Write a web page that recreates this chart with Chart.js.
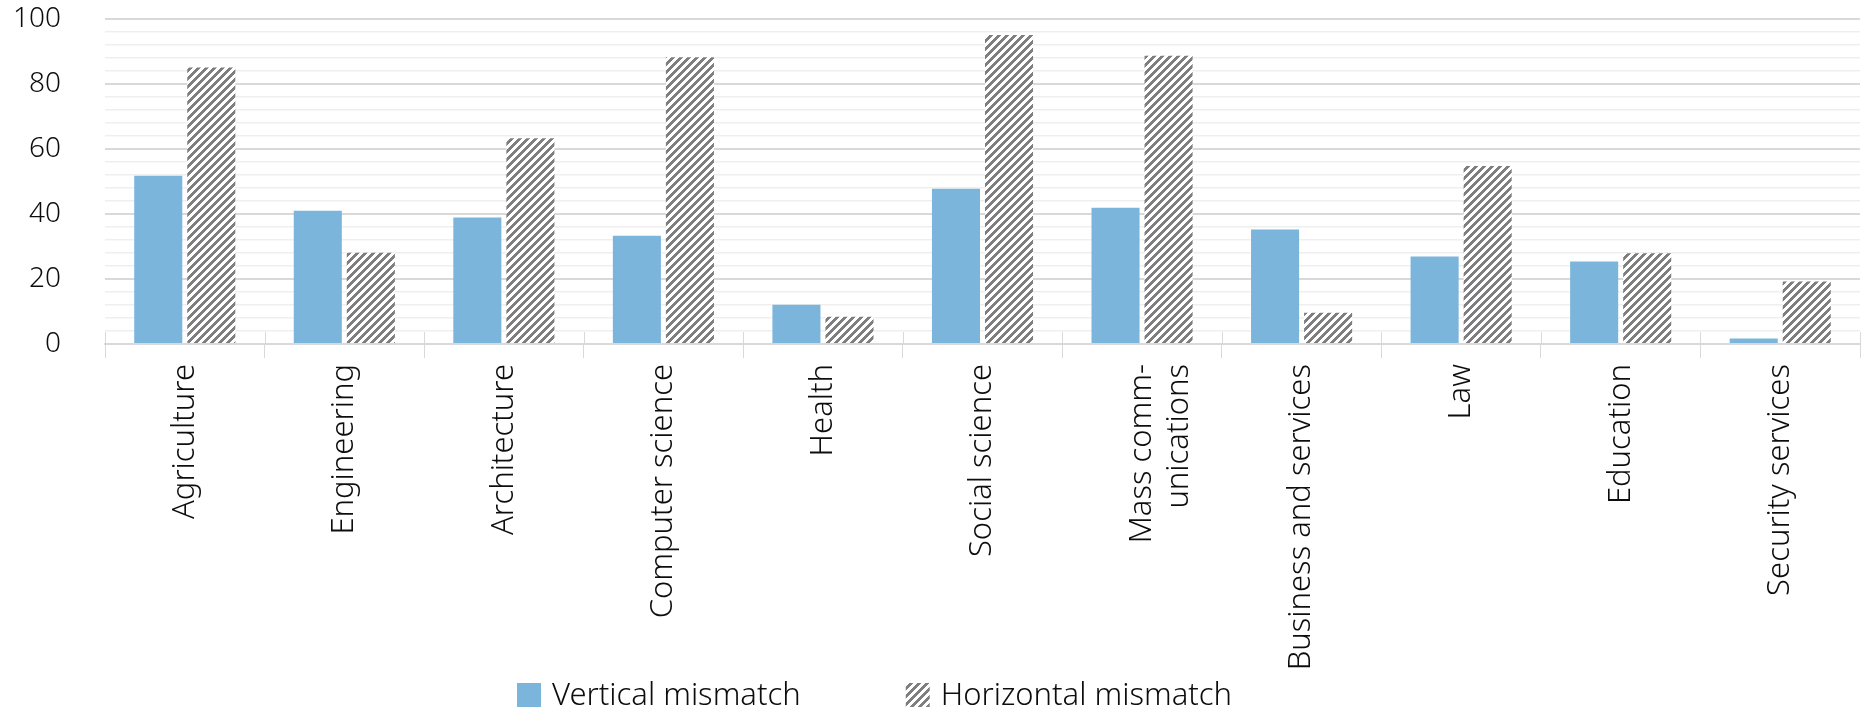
<!DOCTYPE html>
<html>
<head>
<meta charset="utf-8">
<script src="https://cdn.jsdelivr.net/npm/chart.js@4/dist/chart.umd.min.js"></script>
<style>
  html, body { margin: 0; padding: 0; background: #fff; }
  #wrap { width: 1864px; height: 712px; }
</style>
</head>
<body>
<div id="wrap"><canvas id="chart" width="1864" height="712"></canvas></div>
<script>
const categories = [
    'Agriculture', 'Engineering', 'Architecture', 'Computer science', 'Health',
    'Social science', ['Mass comm-', 'unications'], 'Business and services',
    'Law', 'Education', 'Security services'
];
const verticalMismatch = [51.8, 41.0, 38.9, 33.3, 12.1, 47.8, 41.9, 35.2, 26.9, 25.4, 1.7];
const horizontalMismatch = [85.1, 28.1, 63.3, 88.2, 8.4, 95.1, 88.7, 9.6, 54.8, 27.9, 19.2];
const seriesNames = ['Vertical mismatch', 'Horizontal mismatch'];

const FONT = '"Noto Sans", "Open Sans", sans-serif';
const TEXT = '#0d0d0d';
const BLUE = '#7cb5dc';

const canvas = document.getElementById('chart');
const ctx = canvas.getContext('2d');

// 8x8 "wide upward diagonal" fill, like the Excel pattern
function hatchPattern() {
    const tile = document.createElement('canvas');
    tile.width = 8;
    tile.height = 8;
    const g = tile.getContext('2d');
    g.fillStyle = '#ffffff';
    g.fillRect(0, 0, 8, 8);
    g.fillStyle = '#7f7f7f';
    for (let y = 0; y < 8; y++) {
        for (let x = 0; x < 8; x++) {
            if ((x + y) % 8 < 4) g.fillRect(x, y, 1, 1);
        }
    }
    return ctx.createPattern(tile, 'repeat');
}
const HATCH = hatchPattern();

// short category ticks that cross the baseline
const crossTicks = {
    id: 'crossTicks',
    beforeDatasetsDraw(chart) {
        const x = chart.scales.x;
        const c = chart.ctx;
        const w = (x.right - x.left) / categories.length;
        c.save();
        c.strokeStyle = '#d9d9d9';
        c.lineWidth = 1;
        for (let i = 0; i <= categories.length; i++) {
            const px = Math.round(x.left + i * w) + 0.5;
            c.beginPath();
            c.moveTo(px, x.top - 12);
            c.lineTo(px, x.top);
            c.stroke();
        }
        c.restore();
    }
};

// legend drawn from the datasets, spaced like the original
const wideLegend = {
    id: 'wideLegend',
    afterDraw(chart) {
        const c = chart.ctx;
        const y = 683, box = 24, gap = 11, between = 105;
        let x = 517;
        c.save();
        c.font = '300 31px ' + FONT;
        c.textBaseline = 'middle';
        chart.data.datasets.forEach(ds => {
            c.fillStyle = ds.backgroundColor;
            c.fillRect(x, y, box, box);
            x += box + gap;
            c.fillStyle = TEXT;
            c.fillText(ds.label, x, y + box / 2 + 1);
            x += c.measureText(ds.label).width + between;
        });
        c.restore();
    }
};

new Chart(ctx, {
    type: 'bar',
    data: {
        labels: categories,
        datasets: [
            {
                label: seriesNames[0],
                data: verticalMismatch,
                backgroundColor: BLUE,
                borderWidth: 0,
                categoryPercentage: 0.665,
                barPercentage: 0.906
            },
            {
                label: seriesNames[1],
                data: horizontalMismatch,
                backgroundColor: HATCH,
                borderWidth: 0,
                categoryPercentage: 0.665,
                barPercentage: 0.906
            }
        ]
    },
    options: {
        responsive: false,
        animation: false,
        events: [],
        layout: { padding: { top: 19, right: 4, left: 0, bottom: 0 } },
        plugins: {
            legend: { display: false },
            tooltip: { enabled: false }
        },
        scales: {
            x: {
                afterFit(scale) { scale.height = 368; },
                grid: {
                    display: true,
                    offset: true,
                    drawOnChartArea: false,
                    drawTicks: true,
                    tickLength: 14,
                    color: '#d9d9d9',
                    lineWidth: 1
                },
                border: { display: true, color: '#d9d9d9', width: 2 },
                ticks: {
                    minRotation: 90,
                    maxRotation: 90,
                    autoSkip: false,
                    padding: 6,
                    color: TEXT,
                    font: { family: FONT, size: 31, weight: '300', lineHeight: 1.2 }
                }
            },
            y: {
                min: 0,
                max: 100,
                afterFit(scale) {
                    scale.width = 105;
                    scale.paddingTop = 0;
                    scale.paddingBottom = 0;
                },
                border: { display: false },
                grid: {
                    drawTicks: false,
                    color: c => (c.tick && c.tick.value % 20 === 0) ? '#d9d9d9' : '#efefef',
                    lineWidth: c => (c.tick && c.tick.value % 20 === 0) ? 2 : 1.5
                },
                ticks: {
                    stepSize: 4,
                    autoSkip: false,
                    padding: 44,
                    color: TEXT,
                    font: { family: FONT, size: 28, weight: '300' },
                    callback: v => (v % 20 === 0 ? String(v) : '')
                }
            }
        }
    },
    plugins: [crossTicks, wideLegend]
});
</script>
</body>
</html>
